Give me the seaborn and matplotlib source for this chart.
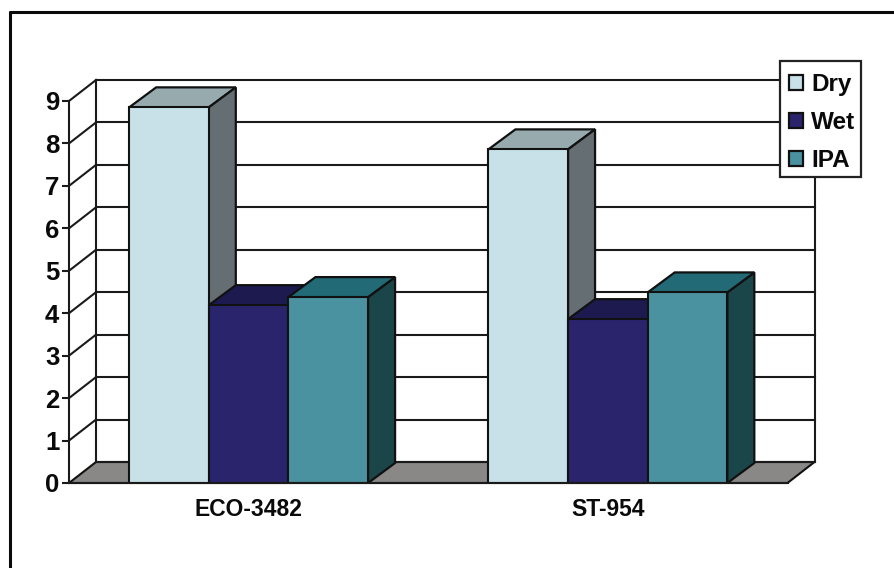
import matplotlib
matplotlib.use("Agg")
import matplotlib.pyplot as plt
from matplotlib.lines import Line2D
from matplotlib.patches import Polygon, Patch, Rectangle
import numpy as np
import pandas as pd
import seaborn as sns

categories = ["ECO-3482", "ST-954"]
series = ["Dry", "Wet", "IPA"]
dry = [8.85, 7.86]
wet = [4.19, 3.86]
ipa = [4.38, 4.49]
yticks = list(range(10))

front = {"Dry": "#C8E1E9", "Wet": "#29246B", "IPA": "#4B92A0"}
top = {"Dry": "#97ABAF", "Wet": "#1D1A50", "IPA": "#226A76"}
side = {"Dry": "#656E73", "Wet": "#15133A", "IPA": "#1A4649"}
top_z = {"Dry": 4, "Wet": 4.5, "IPA": 4.6}
side_z = {"Dry": 4, "Wet": 2, "IPA": 4}

W, H = 894, 568
sns.set_theme(style="white")
plt.rcParams["font.family"] = ["Liberation Sans", "DejaVu Sans"]
plt.rcParams["font.weight"] = "bold"

fig = plt.figure(figsize=(W / 100, H / 100), dpi=100, facecolor="white")
x0, x1, y0, y9 = 69.0, 787.5, 483.0, 101.0
ax = fig.add_axes([x0 / W, 1 - y0 / H, (x1 - x0) / W, (y0 - y9) / H])
ax.patch.set_alpha(0)

df = pd.DataFrame({"cat": categories * 3,
                   "series": [s for s in series for _ in categories],
                   "value": dry + wet + ipa})
sns.barplot(data=df, x="cat", y="value", hue="series", order=categories,
            hue_order=series, palette=front, width=0.665, gap=0, dodge=True,
            saturation=1, edgecolor="#111111", linewidth=1.5, legend=False,
            ax=ax, zorder=5)
ax.set_xlim(-0.5, 1.5)
ax.set_ylim(0, 9)
ax.set_xlabel("")
ax.set_ylabel("")

ux = (x1 - x0) / 2      # pixels per category
uy = (y0 - y9) / 9      # pixels per unit
wall_dx, wall_dy = 27 / ux, 21 / uy
bar_dx, bar_dy = 27 / ux, 20 / uy
lc = "#1A1A1A"
kw = dict(clip_on=False, solid_capstyle="projecting")

# depth faces of each bar, taken from the bars seaborn drew
for name, container in zip(series, list(ax.containers)):
    for p in container:
        xa, w, h = p.get_x(), p.get_width(), p.get_height()
        ax.add_patch(Polygon([(xa, h), (xa + bar_dx, h + bar_dy), (xa + w + bar_dx, h + bar_dy), (xa + w, h)],
                             closed=True, fc=top[name], ec="#111111", lw=1.6, clip_on=False,
                             zorder=top_z[name]))
        ax.add_patch(Polygon([(xa + w, 0), (xa + w + bar_dx, bar_dy), (xa + w + bar_dx, h + bar_dy), (xa + w, h)],
                             closed=True, fc=side[name], ec="#111111", lw=1.6, clip_on=False,
                             zorder=side_z[name]))

# floor
ax.add_patch(Polygon([(-0.5, 0), (-0.5 + wall_dx, wall_dy), (1.5 + wall_dx, wall_dy), (1.5, 0)],
                     closed=True, fc="#8A8886", ec="#111111", lw=1.5, clip_on=False, zorder=1))
# gridlines on back and side walls
for t in yticks:
    if t > 0:
        ax.plot([-0.5, -0.5 + wall_dx], [t, t + wall_dy], color=lc, lw=1.5, zorder=1, **kw)
    ax.plot([-0.5 + wall_dx, 1.5 + wall_dx], [t + wall_dy, t + wall_dy], color=lc, lw=1.5, zorder=1, **kw)
for xv in (-0.5 + wall_dx, 1.5 + wall_dx):
    ax.plot([xv, xv], [wall_dy, 9 + wall_dy], color=lc, lw=1.5, zorder=1, **kw)

sns.despine(ax=ax, right=True, top=True)
for s in ("left", "bottom"):
    ax.spines[s].set_color(lc)
    ax.spines[s].set_linewidth(1.5)
    ax.spines[s].set_zorder(6)
ax.set_yticks(yticks)
ax.set_xticks(range(len(categories)))
ax.set_xticklabels(categories, fontsize=16.5, fontweight="bold", color="#0A0A0A")
ax.tick_params(axis="y", length=5, width=1.5, color=lc, left=True, pad=2,
               labelsize=18.5, labelcolor="#0A0A0A")
ax.tick_params(axis="x", length=0, pad=10.5)

# legend: white box, then entries on top of it
fig.add_artist(Rectangle((780 / W, 1 - 177 / H), 81 / W, 116 / H, transform=fig.transFigure,
                         fc="white", ec="#222222", lw=1.6, zorder=9))
handles = [Patch(facecolor=front[s], edgecolor="#111111", linewidth=1.6, label=s) for s in series]
leg = fig.legend(handles=handles, loc="upper left",
                 bbox_to_anchor=(789 / W, 1 - 73 / H), bbox_transform=fig.transFigure,
                 frameon=False, labelcolor="#0A0A0A",
                 prop={"family": "Liberation Sans", "weight": "bold", "size": 17.5},
                 handlelength=0.58, handleheight=0.58, handletextpad=0.33,
                 labelspacing=0.62, borderpad=0, borderaxespad=0)
leg.set_zorder(10)

# outer frame: top and left only
fig.add_artist(Line2D([9.5 / W, 9.5 / W], [0, 1 - 12 / H], color="#0A0A0A", lw=2.2))
fig.add_artist(Line2D([9.5 / W, 1], [1 - 12 / H, 1 - 12 / H], color="#0A0A0A", lw=2.2))

fig.savefig("out.png", dpi=100, facecolor="white")
